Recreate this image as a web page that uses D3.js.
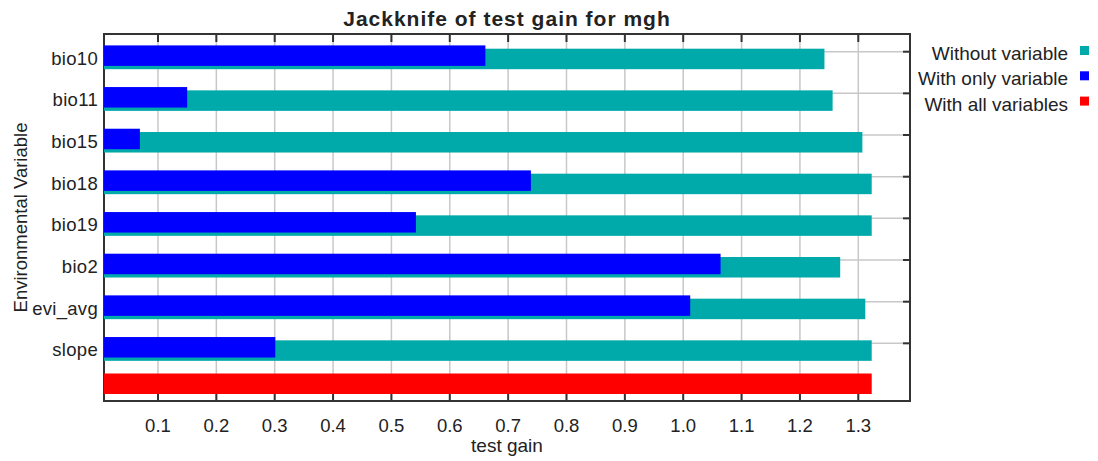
<!DOCTYPE html>
<html>
<head>
<meta charset="utf-8">
<script src="https://d3js.org/d3.v7.min.js"></script>
<style>
    body { margin: 0; background: #fff; }
    text { font-family: "Liberation Sans", Arial, sans-serif; fill: #222; }
</style>
</head>
<body>
<svg></svg>
<script>
const size = {w: 1098, h: 461};
const plot = {l: 104, r: 910, t: 34, b: 401};

// data
const variables = ['bio10', 'bio11', 'bio15', 'bio18', 'bio19', 'bio2', 'evi_avg', 'slope'];
const withoutVariable = [1.242, 1.256, 1.307, 1.323, 1.323, 1.269, 1.312, 1.323];
const withOnlyVariable = [0.661, 0.150, 0.069, 0.739, 0.542, 1.064, 1.012, 0.301];
const withAllVariables = 1.323;
const xTicks = [0.1, 0.2, 0.3, 0.4, 0.5, 0.6, 0.7, 0.8, 0.9, 1.0, 1.1, 1.2, 1.3];
const legendLabels = ['Without variable', 'With only variable', 'With all variables'];
const colors = ['#00aaaa', '#0000ff', '#ff0000'];

const svg = d3.select('svg')
    .attr('width', size.w)
    .attr('height', size.h);

let x = d3.scaleLinear()
    .domain([0.0075, 1.3886])
    .range([plot.l, plot.r]);

// last slot is the "all variables" row
let y = d3.scalePoint()
    .domain(variables.concat(['__all']))
    .range([51.7, 385]);

const gridG = svg.append('g');

// vertical grid
gridG.selectAll('line.vg')
    .data(xTicks)
    .join('line')
    .attr('x1', d => x(d)).attr('x2', d => x(d))
    .attr('y1', plot.t).attr('y2', plot.b)
    .attr('stroke', '#c8c8c8')
    .attr('stroke-width', 1.5);

// horizontal grid
gridG.selectAll('line.hg')
    .data(variables)
    .join('line')
    .attr('x1', plot.l).attr('x2', plot.r)
    .attr('y1', d => y(d)).attr('y2', d => y(d))
    .attr('stroke', '#c8c8c8')
    .attr('stroke-width', 1.5);

// frame + ticks
const axisG = svg.append('g');
axisG.append('rect')
    .attr('x', plot.l).attr('y', plot.t)
    .attr('width', plot.r - plot.l).attr('height', plot.b - plot.t)
    .attr('fill', 'none')
    .attr('stroke', '#333')
    .attr('stroke-width', 2);

axisG.selectAll('line.tt')
    .data(xTicks)
    .join('line')
    .attr('x1', d => x(d)).attr('x2', d => x(d))
    .attr('y1', plot.t).attr('y2', plot.t + 8)
    .attr('stroke', '#333').attr('stroke-width', 2);

axisG.selectAll('line.bt')
    .data(xTicks)
    .enter().append('line')
    .attr('x1', d => x(d)).attr('x2', d => x(d))
    .attr('y1', plot.b - 7).attr('y2', plot.b)
    .attr('stroke', '#333').attr('stroke-width', 2);

axisG.selectAll('line.rt')
    .data(variables)
    .enter().append('line')
    .attr('x1', plot.r - 7).attr('x2', plot.r)
    .attr('y1', d => y(d)).attr('y2', d => y(d))
    .attr('stroke', '#333').attr('stroke-width', 2);

// bars
const barsG = svg.append('g');
const barH = 20.5;

barsG.selectAll('rect.without')
    .data(variables)
    .enter().append('rect')
    .attr('x', plot.l)
    .attr('y', d => y(d) - 3)
    .attr('width', (d, i) => x(withoutVariable[i]) - plot.l)
    .attr('height', barH)
    .attr('fill', colors[0]);

barsG.selectAll('rect.only')
    .data(variables)
    .enter().append('rect')
    .attr('x', plot.l)
    .attr('y', d => y(d) - 6.3)
    .attr('width', (d, i) => x(withOnlyVariable[i]) - plot.l)
    .attr('height', barH)
    .attr('fill', colors[1]);

barsG.append('rect')
    .attr('x', plot.l)
    .attr('y', y('__all') - 11.5)
    .attr('width', x(withAllVariables) - plot.l)
    .attr('height', barH)
    .attr('fill', colors[2]);

// category labels
svg.append('g').selectAll('text')
    .data(variables)
    .join('text')
    .attr('x', 98)
    .attr('y', d => y(d) + 13)
    .attr('text-anchor', 'end')
    .style('font-size', '18.5px')
    .style('letter-spacing', '0.3px')
    .text(d => d);

// x tick labels
svg.append('g').selectAll('text')
    .data(xTicks)
    .join('text')
    .attr('x', d => x(d))
    .attr('y', 431.5)
    .attr('text-anchor', 'middle')
    .style('font-size', '18.5px')
    .text(d => d3.format('.1f')(d));

// titles
svg.append('text')
    .attr('x', (plot.l + plot.r) / 2)
    .attr('y', 25.5)
    .attr('text-anchor', 'middle')
    .style('font-size', '21px')
    .style('font-weight', 'bold')
    .style('letter-spacing', '1px')
    .text('Jackknife of test gain for mgh');

svg.append('text')
    .attr('x', (plot.l + plot.r) / 2)
    .attr('y', 452)
    .attr('text-anchor', 'middle')
    .style('font-size', '19px')
    .text('test gain');

svg.append('text')
    .attr('transform', 'translate(27,' + (plot.t + plot.b) / 2 + ') rotate(-90)')
    .attr('text-anchor', 'middle')
    .style('font-size', '18.5px')
    .text('Environmental Variable');

// legend
let legend = svg.append('g').selectAll('g')
    .data(legendLabels)
    .join('g')
    .attr('transform', (d, i) => 'translate(0,' + (50.5 + i * 25.3) + ')');

legend.append('text')
    .attr('x', 1068)
    .attr('y', 9.5)
    .attr('text-anchor', 'end')
    .style('font-size', '19px')
    .text(d => d);

legend.append('rect')
    .attr('x', 1080)
    .attr('y', -4.5)
    .attr('width', 9)
    .attr('height', 9)
    .attr('fill', (d, i) => colors[i]);
</script>
</body>
</html>
